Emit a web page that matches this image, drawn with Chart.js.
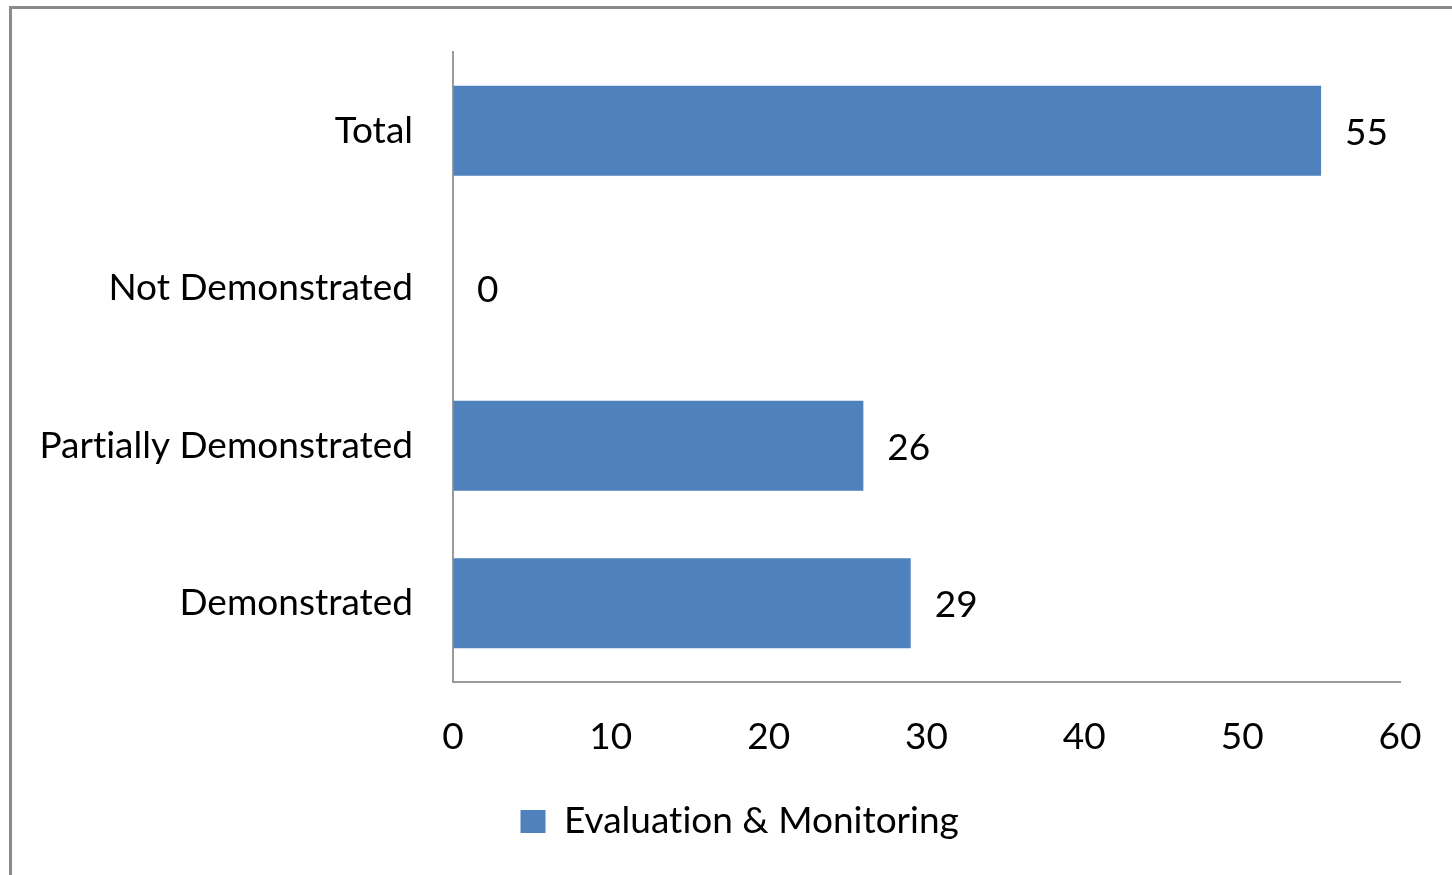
<!DOCTYPE html>
<html>
<head>
<meta charset="utf-8">
<script src="https://cdn.jsdelivr.net/npm/chart.js@4/dist/chart.umd.min.js"></script>
<style>
    html, body { margin: 0; padding: 0; background: #fff; overflow: hidden; }
    #frame { position: absolute; left: 9px; top: 6px; width: 1500px; height: 900px; border: 3px solid #8a8a8a; }
    #wrap { position: absolute; left: 0; top: 0; width: 1452px; height: 875px; }
</style>
</head>
<body>
<div id="frame"></div>
<div id="wrap"><canvas id="chart-area" width="1452" height="875"></canvas></div>
<script>
    var categories = ['Total', 'Not Demonstrated', 'Partially Demonstrated', 'Demonstrated'];
    var values = [55, 0, 26, 29];
    var seriesName = 'Evaluation & Monitoring';
    var xTicks = [0, 10, 20, 30, 40, 50, 60];

    var fontFamily = 'Lato, "Open Sans", sans-serif';
    var fontSize = 37;
    var barColor = '#4F81BD';

    // no "ti" ligatures, closer to the original look
    var plainText = {
        id: 'plainText',
        beforeDraw: function (chart) {
            chart.ctx.textRendering = 'optimizeSpeed';
        }
    };

    // value labels to the right of each bar
    var valueLabels = {
        id: 'valueLabels',
        afterDatasetsDraw: function (chart) {
            var ctx = chart.ctx;
            var meta = chart.getDatasetMeta(0);
            ctx.save();
            ctx.font = fontSize + 'px ' + fontFamily;
            ctx.fillStyle = '#000';
            ctx.textAlign = 'left';
            ctx.textBaseline = 'middle';
            meta.data.forEach(function (bar, i) {
                ctx.fillText(String(values[i]), bar.x + 24, bar.y + 2);
            });
            ctx.restore();
        }
    };

    var ctx = document.getElementById('chart-area').getContext('2d');
    window.myBar = new Chart(ctx, {
        type: 'bar',
        data: {
            labels: categories,
            datasets: [{
                label: seriesName,
                data: values,
                backgroundColor: barColor,
                borderWidth: 0,
                categoryPercentage: 1,
                barPercentage: 0.571
            }]
        },
        plugins: [plainText, valueLabels],
        options: {
            indexAxis: 'y',
            responsive: false,
            animation: false,
            maintainAspectRatio: false,
            layout: {
                padding: { top: 52, right: 0, left: 28, bottom: 25 }
            },
            plugins: {
                tooltip: { enabled: false },
                legend: {
                    position: 'bottom',
                    labels: {
                        boxWidth: 25,
                        boxHeight: 23,
                        padding: 10,
                        color: '#000',
                        font: { family: fontFamily, size: fontSize }
                    }
                }
            },
            scales: {
                x: {
                    min: 0,
                    max: 60,
                    afterBuildTicks: function (scale) {
                        scale.ticks = xTicks.map(function (v) { return { value: v }; });
                    },
                    afterFit: function (scale) {
                        scale.height = 111;
                        scale.paddingLeft = 0;
                        scale.paddingRight = 52;
                    },
                    grid: { display: true, color: 'transparent', drawTicks: false },
                    border: { display: true, color: '#9a9a9a', width: 2 },
                    ticks: {
                        padding: 33,
                        color: '#000',
                        maxRotation: 0,
                        font: { family: fontFamily, size: fontSize }
                    }
                },
                y: {
                    afterFit: function (scale) {
                        scale.width = 425;
                        scale.paddingTop = 0;
                        scale.paddingBottom = 0;
                    },
                    grid: { display: true, color: 'transparent', drawTicks: false },
                    border: { display: true, color: '#9a9a9a', width: 2 },
                    ticks: {
                        padding: 40,
                        color: '#000',
                        font: { family: fontFamily, size: fontSize }
                    }
                }
            }
        }
    });
</script>
</body>
</html>
